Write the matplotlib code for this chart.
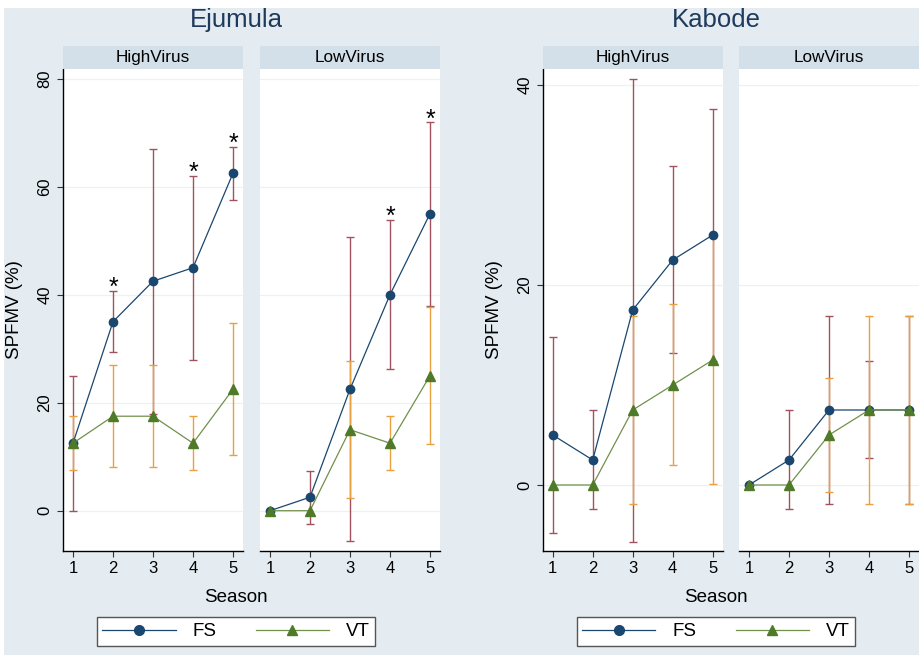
import numpy as np
import matplotlib
matplotlib.use('Agg')
import matplotlib.pyplot as plt
from matplotlib.lines import Line2D
from matplotlib.patches import Rectangle

plt.rcParams['font.family'] = ['Liberation Sans', 'DejaVu Sans']

seasons = [1, 2, 3, 4, 5]

# Ejumula
ej_high_fs = [12.5, 35, 42.5, 45, 62.5]
ej_high_fs_lo = [0, 29.4, 18, 28, 57.6]
ej_high_fs_hi = [25, 40.7, 67, 62, 67.4]
ej_high_vt = [12.5, 17.5, 17.5, 12.5, 22.5]
ej_high_vt_lo = [7.5, 8.1, 8.1, 7.5, 10.3]
ej_high_vt_hi = [17.5, 27, 27, 17.5, 34.8]
ej_low_fs = [0, 2.5, 22.5, 40, 55]
ej_low_fs_lo = [0, -2.4, -5.7, 26.2, 38]
ej_low_fs_hi = [0, 7.4, 50.6, 53.9, 71.9]
ej_low_vt = [0, 0, 15, 12.5, 25]
ej_low_vt_lo = [0, 0, 2.3, 7.5, 12.3]
ej_low_vt_hi = [0, 0, 27.7, 17.5, 37.8]
ej_high_stars = [2, 4, 5]
ej_low_stars = [4, 5]

# Kabode
kb_high_fs = [5, 2.5, 17.5, 22.5, 25]
kb_high_fs_lo = [-4.8, -2.4, -5.7, 13.2, 12.4]
kb_high_fs_hi = [14.8, 7.5, 40.6, 31.9, 37.6]
kb_high_vt = [0, 0, 7.5, 10, 12.5]
kb_high_vt_lo = [0, 0, -1.9, 2.0, 0.1]
kb_high_vt_hi = [0, 0, 16.9, 18.1, 24.8]
kb_low_fs = [0, 2.5, 7.5, 7.5, 7.5]
kb_low_fs_lo = [0, -2.4, -1.9, 2.7, -1.9]
kb_low_fs_hi = [0, 7.5, 16.9, 12.4, 16.9]
kb_low_vt = [0, 0, 5, 7.5, 7.5]
kb_low_vt_lo = [0, 0, -0.7, -1.9, -1.9]
kb_low_vt_hi = [0, 0, 10.7, 16.9, 16.9]

W, H = 920, 656
BG = '#e4ecf1'
STRIP = '#d3e0e9'
FS_C = '#1a476f'
VT_LINE = '#71904c'
VT_MK = '#4f7a28'
FS_ERR = '#a2525e'
VT_ERR = '#e8a040'

fig = plt.figure(figsize=(W / 100, H / 100), dpi=100)
fig.patches.append(Rectangle((4 / W, 1 - 655 / H), (W - 4) / W, (655 - 8) / H,
                             transform=fig.transFigure, facecolor=BG, edgecolor='none', zorder=-10))


def fx(px):
    return px / W


def fy(py):
    return 1 - py / H


def errbars(ax, y, lo, hi, color):
    y = np.array(y, float)
    lo = np.array(lo, float)
    hi = np.array(hi, float)
    keep = (hi - lo) > 0
    x = np.array(seasons)[keep]
    ax.errorbar(x, y[keep], yerr=[y[keep] - lo[keep], hi[keep] - y[keep]], fmt='none',
                ecolor=color, elinewidth=1.0, capsize=2.6, capthick=1.0, zorder=2)


def panel(left, ylim, yticks, label, fs, fs_lo, fs_hi, vt, vt_lo, vt_hi, stars, first):
    ax = fig.add_axes([fx(left), fy(551), fx(180), (551 - 69) / H])
    ax.set_xlim(0.75, 5.25)
    ax.set_ylim(*ylim)
    for t in yticks:
        ax.axhline(t, color='#eef1f3', lw=0.9, zorder=0)
    errbars(ax, fs, fs_lo, fs_hi, FS_ERR)
    errbars(ax, vt, vt_lo, vt_hi, VT_ERR)
    ax.plot(seasons, fs, color=FS_C, lw=0.9, marker='o', ms=6, mfc=FS_C, mec=FS_C, zorder=3)
    ax.plot(seasons, vt, color=VT_LINE, lw=0.9, marker='^', ms=6.5, mfc=VT_MK, mec=VT_MK, zorder=4)
    for s in stars:
        ax.annotate('*', (s, fs_hi[s - 1]), xytext=(0, -3.0), textcoords='offset points',
                    ha='center', va='baseline', fontsize=18, color='black', zorder=5)
    for sp in ['top', 'right']:
        ax.spines[sp].set_visible(False)
    ax.spines['bottom'].set_color('black')
    ax.spines['bottom'].set_linewidth(1.0)
    ax.set_xticks(seasons)
    ax.tick_params(axis='x', direction='out', length=4.5, width=0.8, color='#333333',
                   labelsize=12, pad=3)
    if first:
        ax.spines['left'].set_color('black')
        ax.spines['left'].set_linewidth(1.0)
        ax.set_yticks(yticks)
        ax.set_yticklabels([str(t) for t in yticks], rotation=90, va='center')
        ax.tick_params(axis='y', direction='out', length=4.5, width=0.8, color='#333333',
                       labelsize=12, pad=3)
    else:
        ax.spines['left'].set_visible(False)
        ax.set_yticks([])
    sax = fig.add_axes([fx(left), fy(69), fx(180), (69 - 46) / H])
    sax.set_facecolor(STRIP)
    sax.set_xticks([])
    sax.set_yticks([])
    for sp in sax.spines.values():
        sp.set_visible(False)
    sax.text(0.5, 0.5, label, ha='center', va='center', fontsize=12.3, transform=sax.transAxes)
    return ax


def figure_block(title, cx, left1, left2, ylim, yticks, ylab_x, high, low, stars_h, stars_l):
    a1 = panel(left1, ylim, yticks, 'HighVirus', *high, stars_h, True)
    panel(left2, ylim, yticks, 'LowVirus', *low, stars_l, False)
    fig.text(fx(cx), fy(20), title, ha='center', va='center', fontsize=18.5, color='#1e3a5c')
    fig.text(fx(cx), fy(597), 'Season', ha='center', va='center', fontsize=13.5)
    fig.text(fx(ylab_x), fy(310), 'SPFMV (%)', ha='center', va='center', rotation=90, fontsize=13.5)
    handles = [Line2D([], [], color=FS_C, lw=0.9, marker='o', ms=7, mfc=FS_C, mec=FS_C),
               Line2D([], [], color=VT_LINE, lw=0.9, marker='^', ms=7.5, mfc=VT_MK, mec=VT_MK)]
    leg = fig.legend(handles, ['FS', 'VT'], loc='center', bbox_to_anchor=(fx(cx), fy(631.5)),
                     ncol=2, fontsize=13.5, frameon=True, fancybox=False, handlelength=3.9,
                     handletextpad=0.9, columnspacing=2.1, borderpad=0.3, framealpha=1)
    leg.get_frame().set_edgecolor('#555555')
    leg.get_frame().set_linewidth(1.0)
    leg.get_frame().set_facecolor('white')
    return a1


figure_block('Ejumula', 236, 63, 260, (-7.46, 81.8), [0, 20, 40, 60, 80], 15,
             (ej_high_fs, ej_high_fs_lo, ej_high_fs_hi, ej_high_vt, ej_high_vt_lo, ej_high_vt_hi),
             (ej_low_fs, ej_low_fs_lo, ej_low_fs_hi, ej_low_vt, ej_low_vt_lo, ej_low_vt_hi),
             ej_high_stars, ej_low_stars)
figure_block('Kabode', 716, 542.7, 739, (-6.6, 41.6), [0, 20, 40], 495,
             (kb_high_fs, kb_high_fs_lo, kb_high_fs_hi, kb_high_vt, kb_high_vt_lo, kb_high_vt_hi),
             (kb_low_fs, kb_low_fs_lo, kb_low_fs_hi, kb_low_vt, kb_low_vt_lo, kb_low_vt_hi),
             [], [])

fig.savefig('out.png', dpi=100, facecolor='white')
